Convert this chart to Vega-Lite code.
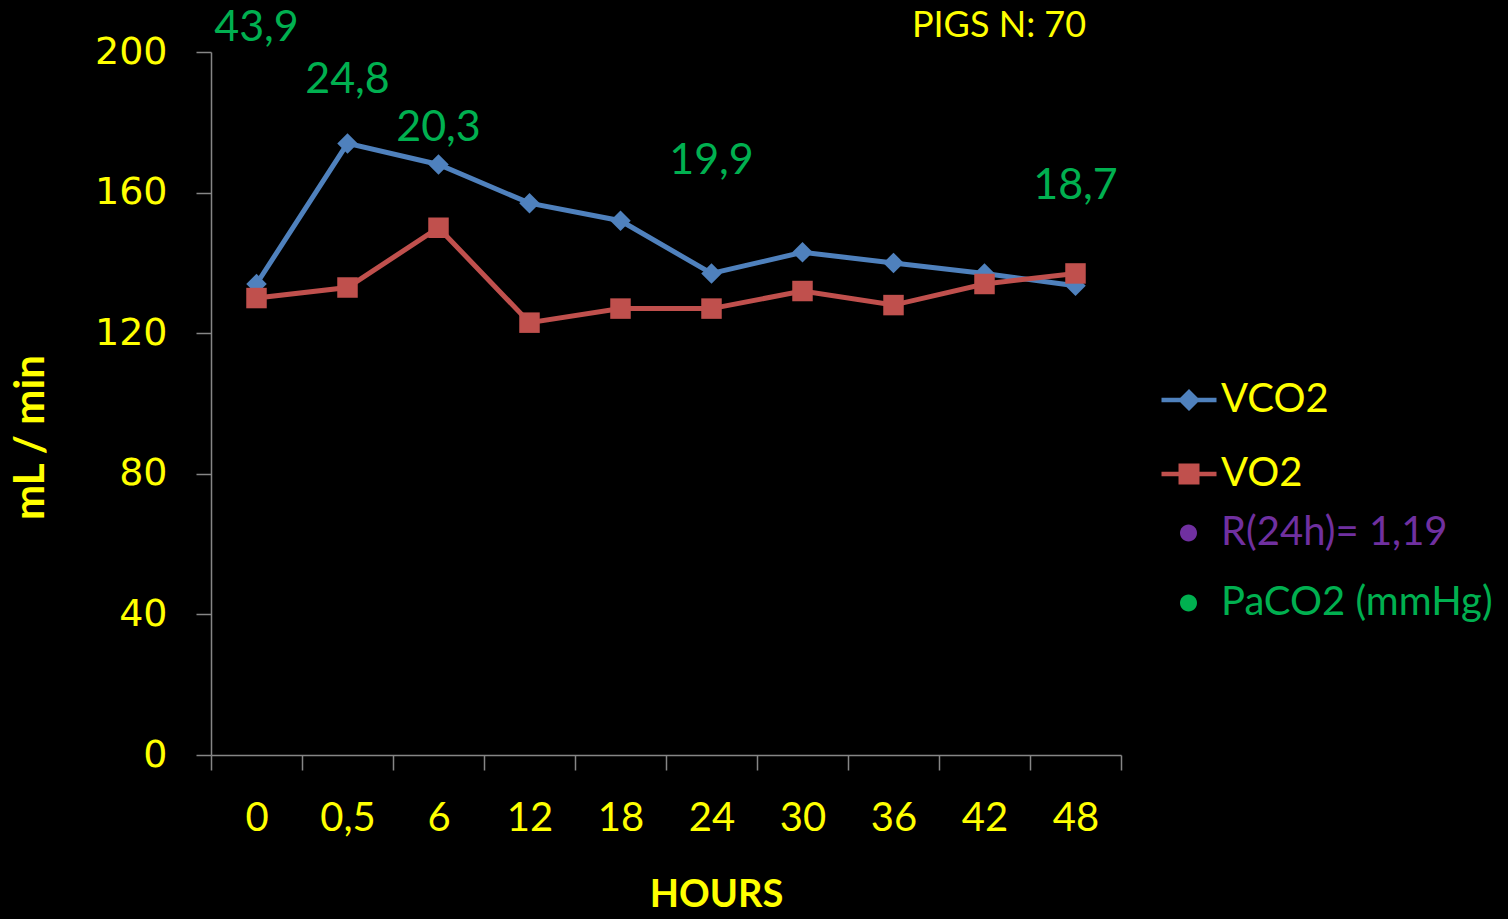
{
  "$schema": "https://vega.github.io/schema/vega-lite/v6.json",
  "background": "#000000",
  "autosize": {"type": "none"},
  "padding": {"left": 211, "top": 52, "right": 387, "bottom": 164},
  "width": 910,
  "height": 703,
  "title": {
    "text": "PIGS N: 70",
    "color": "#FFFF00",
    "font": "Lato",
    "fontSize": 36,
    "fontWeight": "normal",
    "anchor": "middle",
    "dx": 333,
    "dy": 34,
    "baseline": "middle",
    "offset": -21
  },
  "config": {
    "view": {"stroke": null},
    "locale": {
      "number": {"decimal": ",", "thousands": ".", "grouping": [3], "currency": ["", " €"]}
    }
  },
  "datasets": {
    "exchange": [
      {"hour": "0", "series": "VCO2", "value": 134},
      {"hour": "0,5", "series": "VCO2", "value": 174},
      {"hour": "6", "series": "VCO2", "value": 168},
      {"hour": "12", "series": "VCO2", "value": 157},
      {"hour": "18", "series": "VCO2", "value": 152},
      {"hour": "24", "series": "VCO2", "value": 137},
      {"hour": "30", "series": "VCO2", "value": 143},
      {"hour": "36", "series": "VCO2", "value": 140},
      {"hour": "42", "series": "VCO2", "value": 137},
      {"hour": "48", "series": "VCO2", "value": 133.5},
      {"hour": "0", "series": "VO2", "value": 130},
      {"hour": "0,5", "series": "VO2", "value": 133},
      {"hour": "6", "series": "VO2", "value": 150},
      {"hour": "12", "series": "VO2", "value": 123},
      {"hour": "18", "series": "VO2", "value": 127},
      {"hour": "24", "series": "VO2", "value": 127},
      {"hour": "30", "series": "VO2", "value": 132},
      {"hour": "36", "series": "VO2", "value": 128},
      {"hour": "42", "series": "VO2", "value": 134},
      {"hour": "48", "series": "VO2", "value": 137}
    ],
    "paco2": [
      {"hour": "0", "measure": "PaCO2 (mmHg)", "paco2": 43.9, "anchor": 207.7},
      {"hour": "0,5", "measure": "PaCO2 (mmHg)", "paco2": 24.8, "anchor": 192.9},
      {"hour": "6", "measure": "PaCO2 (mmHg)", "paco2": 20.3, "anchor": 179.2},
      {"hour": "24", "measure": "PaCO2 (mmHg)", "paco2": 19.9, "anchor": 169.9},
      {"hour": "48", "measure": "PaCO2 (mmHg)", "paco2": 18.7, "anchor": 162.7}
    ]
  },
  "encoding": {
    "x": {
      "field": "hour",
      "type": "ordinal",
      "sort": ["0", "0,5", "6", "12", "18", "24", "30", "36", "42", "48"],
      "scale": {"paddingInner": 0, "paddingOuter": 0},
      "axis": {
        "title": "HOURS",
        "titleColor": "#FFFF00",
        "titleFont": "Lato",
        "titleFontWeight": "bold",
        "titleFontSize": 38,
        "titleX": 505,
        "titleY": 140,
        "titleBaseline": "middle",
        "titleAlign": "center",
        "labelAngle": 0,
        "labelColor": "#FFFF00",
        "labelFont": "Lato",
        "labelFontSize": 40,
        "labelPadding": 28,
        "tickBand": "extent",
        "domainColor": "#868686",
        "domainWidth": 1.5,
        "tickColor": "#868686",
        "tickWidth": 1.5,
        "tickSize": 15,
        "grid": false
      }
    }
  },
  "layer": [
    {
      "data": {"name": "exchange"},
      "mark": {"type": "line", "strokeWidth": 5},
      "encoding": {
        "y": {
          "field": "value",
          "type": "quantitative",
          "scale": {"domain": [0, 200], "nice": false},
          "axis": {
            "values": [0, 40, 80, 120, 160, 200],
            "title": "mL / min",
            "titleColor": "#FFFF00",
            "titleFont": "Lato",
            "titleFontWeight": "bold",
            "titleFontSize": 42,
            "titleX": -181,
            "titleY": 385,
            "titleBaseline": "middle",
            "titleAlign": "center",
            "labelColor": "#FFFF00",
            "labelFont": "DejaVu Sans",
            "labelFontSize": 38,
            "labelPadding": 29,
            "domainColor": "#868686",
            "domainWidth": 1.5,
            "tickColor": "#868686",
            "tickWidth": 1.5,
            "tickSize": 15,
            "grid": false
          }
        },
        "color": {
          "field": "series",
          "type": "nominal",
          "scale": {"domain": ["VCO2", "VO2"], "range": ["#4F81BD", "#C0504D"]},
          "legend": {
            "title": null,
            "orient": "none",
            "legendX": 958,
            "legendY": 328,
            "symbolSize": 400,
            "rowPadding": 34,
            "labelColor": "#FFFF00",
            "labelFont": "Lato",
            "labelFontSize": 40,
            "labelOffset": 12,
            "labelLimit": 400,
            "encode": {
              "symbols": {
                "update": {
                  "shape": {"signal": "datum.value === 'VCO2' ? 'M-2.75,-0.22H2.75V0.22H-2.75Z M0,-1.1L1.1,0L0,1.1L-1.1,0Z' : 'M-2.75,-0.22H2.75V0.22H-2.75Z M-1.05,-1.05H1.05V1.05H-1.05Z'"},
                  "size": {"value": 400},
                  "fill": {"signal": "datum.value === 'VCO2' ? '#4F81BD' : '#C0504D'"},
                  "fillOpacity": {"value": 1},
                  "strokeWidth": {"value": 0}
                }
              }
            }
          }
        }
      }
    },
    {
      "data": {"name": "exchange"},
      "mark": {"type": "point", "filled": true, "opacity": 1, "size": 420},
      "encoding": {
        "y": {"field": "value", "type": "quantitative"},
        "color": {"field": "series", "type": "nominal"},
        "shape": {
          "condition": {"test": "datum.series === 'VCO2'", "value": "diamond"},
          "value": "square"
        }
      }
    },
    {
      "data": {"name": "paco2"},
      "mark": {"type": "text", "font": "Lato", "fontSize": 43, "align": "center", "baseline": "middle", "dy": 3},
      "encoding": {
        "y": {"field": "anchor", "type": "quantitative"},
        "text": {"field": "paco2", "type": "quantitative", "format": ".1f"},
        "fill": {
          "field": "measure",
          "type": "nominal",
          "scale": {"domain": ["R(24h)= 1,19", "PaCO2 (mmHg)"], "range": ["#7030A0", "#00B050"]},
          "legend": {
            "title": null,
            "orient": "none",
            "legendX": 957.5,
            "legendY": 461,
            "symbolType": "circle",
            "symbolStrokeWidth": 0,
            "rowPadding": 30,
            "labelFont": "Lato",
            "labelFontSize": 40,
            "labelOffset": 12.5,
            "labelLimit": 400,
            "encode": {
              "labels": {
                "update": {
                  "fill": {"signal": "datum.value === 'PaCO2 (mmHg)' ? '#00B050' : '#7030A0'"}
                }
              },
              "symbols": {
                "update": {
                  "shape": {"value": "M-1.7,0A1.7,1.7 0 1,0 1.7,0A1.7,1.7 0 1,0 -1.7,0Z"},
                  "fill": {"signal": "datum.value === 'PaCO2 (mmHg)' ? '#00B050' : '#7030A0'"},
                  "fillOpacity": {"value": 1},
                  "strokeWidth": {"value": 0}
                }
              }
            }
          }
        }
      }
    }
  ]
}
